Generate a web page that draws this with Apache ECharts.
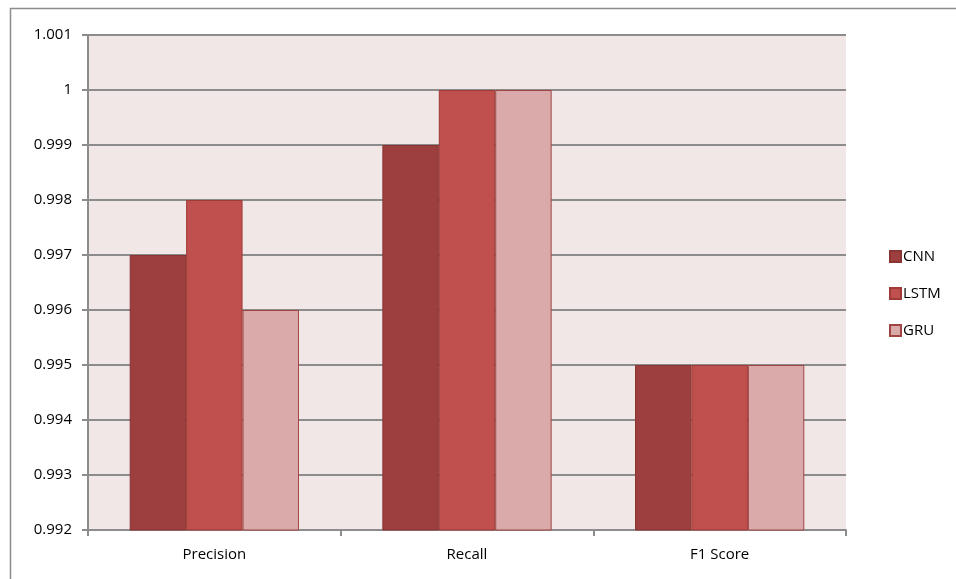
<!DOCTYPE html>
<html>
<head>
<meta charset="utf-8">
<script src="https://cdn.jsdelivr.net/npm/echarts@6/dist/echarts.min.js"></script>
<style>
  html, body { margin: 0; padding: 0; background: #ffffff; }
  #chart { width: 956px; height: 579px; }
</style>
</head>
<body>
<div id="chart"></div>
<script>
const categories = ['Precision', 'Recall', 'F1 Score']
const seriesNames = ['CNN', 'LSTM', 'GRU']
const cnnValues = [0.997, 0.999, 0.995]
const lstmValues = [0.998, 1.0, 0.995]
const gruValues = [0.996, 1.0, 0.995]
const yTicks = [0.992, 0.993, 0.994, 0.995, 0.996, 0.997, 0.998, 0.999, 1, 1.001]

const fillColors = ['#9C3F3E', '#C0504D', '#DAAAAA']
const borderColors = ['#8A3433', '#9E3A38', '#A04444']
const labelFont = 'Open Sans, Liberation Sans, sans-serif'

const chart = echarts.init(document.getElementById('chart'), null, { renderer: 'canvas' })

const makeSeries = (name, values, i) => ({
  name: name,
  type: 'bar',
  data: values,
  barGap: '0%',
  barCategoryGap: '33%',
  itemStyle: {
    color: fillColors[i],
    borderColor: borderColors[i],
    borderWidth: 1
  },
  emphasis: { disabled: true }
})

const option = {
  backgroundColor: '#ffffff',
  animation: false,
  graphic: [{
    type: 'rect',
    left: 8,
    top: 6,
    shape: { width: 1000, height: 620 },
    style: { fill: 'none', stroke: '#8c8c8c', lineWidth: 1.5 },
    silent: true
  }],
  grid: {
    left: 88,
    right: 110,
    top: 35,
    bottom: 49,
    show: true,
    backgroundColor: '#F2E7E7',
    borderWidth: 0
  },
  legend: {
    orient: 'vertical',
    left: 884,
    top: 244,
    itemWidth: 11,
    itemHeight: 11,
    itemGap: 22,
    icon: 'rect',
    data: seriesNames,
    textStyle: { fontFamily: labelFont, fontSize: 15, color: '#000', padding: [0, 0, 0, -3] }
  },
  xAxis: {
    type: 'category',
    data: categories,
    axisLine: { show: true, lineStyle: { color: '#8c8c8c', width: 2 } },
    axisTick: { show: true, alignWithLabel: false, length: 6, lineStyle: { color: '#8c8c8c', width: 2 } },
    axisLabel: { fontFamily: labelFont, fontSize: 15, color: '#000', margin: 17 },
    splitLine: { show: false }
  },
  yAxis: {
    type: 'value',
    min: 0.992,
    max: 1.001,
    interval: 0.001,
    axisLine: { show: true, lineStyle: { color: '#8c8c8c', width: 2 } },
    axisTick: { show: true, length: 6, lineStyle: { color: '#8c8c8c', width: 2 } },
    axisLabel: {
      fontFamily: labelFont,
      fontSize: 15,
      color: '#000',
      margin: 16,
      formatter: v => {
        const t = yTicks.find(x => Math.abs(x - v) < 1e-7)
        return t === undefined ? '' : String(t)
      }
    },
    splitLine: { show: true, lineStyle: { color: '#8c8c8c', width: 2 } }
  },
  series: [
    makeSeries(seriesNames[0], cnnValues, 0),
    makeSeries(seriesNames[1], lstmValues, 1),
    makeSeries(seriesNames[2], gruValues, 2)
  ]
}

chart.setOption(option)
</script>
</body>
</html>
